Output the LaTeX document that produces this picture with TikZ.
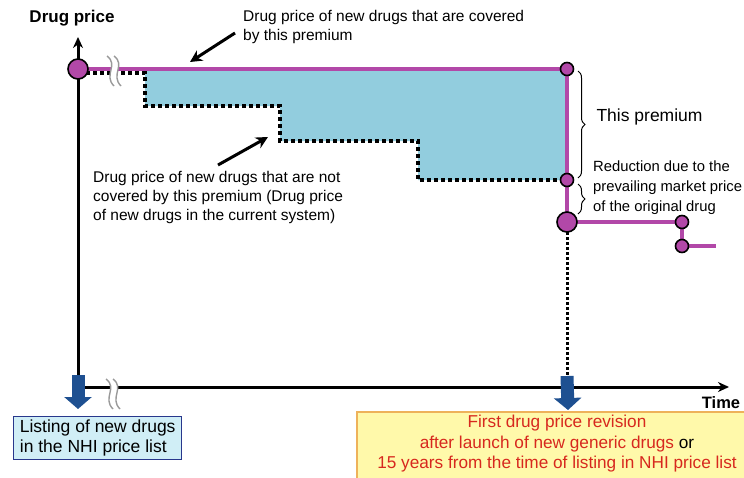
\documentclass[tikz,border=0pt]{standalone}
\usepackage{fontspec}
\setmainfont{Liberation Sans}
\usetikzlibrary{arrows.meta, decorations.pathreplacing, calc}
\definecolor{pricemag}{RGB}{178,72,168}
\definecolor{premblue}{RGB}{146,205,222}
\definecolor{arrblue}{RGB}{30,80,145}
\definecolor{boxblue}{RGB}{208,238,246}
\definecolor{boxnavy}{RGB}{40,55,140}
\definecolor{noteyellow}{RGB}{255,249,170}
\definecolor{noteorange}{RGB}{238,178,90}
\definecolor{notered}{RGB}{215,40,30}

\tikzset{
  dot/.style={circle, draw=black, fill=pricemag, line width=1.6pt, inner sep=0pt, minimum size=13pt},
  bigdot/.style={dot, minimum size=20pt},
  priceline/.style={pricemag, line width=4pt},
  oldprice/.style={black, line width=4pt, dash pattern=on 4pt off 3pt},
  axisline/.style={black, line width=3pt, -{Stealth[length=11pt, width=10pt]}},
  notearrow/.style={black, line width=3pt, -{Stealth[length=12pt, width=12pt]}},
  downarrow/.style={arrblue, line width=13pt, -{Triangle[length=12pt, width=27pt]}},
  premiumbrace/.style={decorate, decoration={brace, amplitude=7pt}, line width=1pt},
  axisbreak/.pic={
    \fill[white] (-6,-15) .. controls (6,-6) and (-10,4) .. (1,15) -- (8,15) .. controls (-3,4) and (13,-6) .. (1,-15) -- cycle;
    \draw[gray!80, line width=1.4pt] (-6,-15) .. controls (6,-6) and (-10,4) .. (1,15);
    \draw[gray!80, line width=1.4pt] (1,-15) .. controls (13,-6) and (-3,4) .. (8,15);
  }
}

\begin{document}
\begin{tikzpicture}[x=1pt, y=-1pt, font=\fontsize{15.5}{19}\selectfont]
  \useasboundingbox (0,0) rectangle (744,477);
  % axes
  \coordinate (orig) at (78,387);
  \coordinate (ytop) at (78,37);
  \coordinate (xend) at (729,387);
  \draw[axisline] (orig) -- (ytop);
  \draw[axisline] (orig) -- (xend);
  \node[font=\fontsize{17}{19}\selectfont\bfseries] (ylab) at (72,18) {Drug price};
  \node[font=\fontsize{16.5}{19}\selectfont\bfseries] (xlab) at (721,403) {Time};
  % price points
  \coordinate (p0) at (78,69);
  \coordinate (p1) at (567,69);
  \coordinate (p2) at (567,180);
  \coordinate (p3) at (567,222);
  \coordinate (p4) at (682,222);
  \coordinate (p5) at (682,246);
  \coordinate (p6) at (716,246);
  % premium area
  \fill[premblue] (145,71) -- (p1) -- (p2) -- (418,180) -- (418,141) -- (280,141) -- (280,106) -- (145,106) -- cycle;
  \draw[oldprice] (86,73) -- (145,73) -- (145,106) -- (280,106) -- (280,141) -- (418,141) -- (418,180) -- (p2);
  % drug price with premium
  \draw[priceline] (p0) -- (p1) -- (p3) -- (p4) -- (p5) -- (p6);
  \coordinate (rev) at (567,376);
  \draw[black, line width=3pt, dash pattern=on 2.5pt off 2.5pt] (p3) -- (rev);
  \node[bigdot] (n0) at (p0) {};
  \node[dot] (n1) at (p1) {};
  \node[dot] (n2) at (p2) {};
  \node[bigdot] (n3) at (p3) {};
  \node[dot] (n4) at (p4) {};
  \node[dot] (n5) at (p5) {};
  % breaks
  \pic at (113,71) {axisbreak};
  \pic at (112,394) {axisbreak};
  % braces
  \draw[premiumbrace] (578,71) -- (578,178);
  \draw[premiumbrace] (578,184) -- (578,214);
  \node[anchor=west, font=\fontsize{17.5}{19}\selectfont] (premium) at (593,117) {This premium};
  \node[anchor=west, align=left, inner sep=0pt, font=\fontsize{14.8}{20}\selectfont] (reduct) at (593,188)
    {Reduction due to the\\prevailing market price\\of the original drug};
  % notes
  \node[anchor=west, align=left, inner sep=0pt] (covered) at (243,27)
    {Drug price of new drugs that are covered\\by this premium};
  \coordinate (covtail) at (235,33);
  \coordinate (covtip) at (190,62);
  \draw[notearrow] (covtail) -- (covtip);
  \node[anchor=west, align=left, inner sep=0pt] (notcov) at (93,197)
    {Drug price of new drugs that are not\\covered by this premium (Drug price\\of new drugs in the current system)};
  \coordinate (ncovtail) at (218,165);
  \coordinate (ncovtip) at (268,137);
  \draw[notearrow] (ncovtail) -- (ncovtip);
  % time points
  \coordinate (lst) at (78,375);
  \coordinate (lsttip) at (78,409);
  \coordinate (revtip) at (568,410);
  \draw[downarrow] (lst) -- (lsttip);
  \draw[downarrow] (rev) -- (revtip);
  \node[anchor=north west, draw=boxnavy, fill=boxblue, line width=1.4pt, align=left, inner xsep=2pt, inner ysep=1pt,
    minimum width=168pt, minimum height=43pt, font=\fontsize{17.5}{20}\selectfont] (listing) at (13,416)
    {Listing of new drugs\\in the NHI price list};
  \draw[draw=noteorange, fill=noteyellow, line width=1.4pt] (357,412) rectangle (752,485);
  \node[align=center, text=notered, font=\fontsize{17.2}{20.5}\selectfont] (revision) at (557,444)
    {First drug price revision\\after launch of new generic drugs \textcolor{black}{or}\\15 years from the time of listing in NHI price list};
\end{tikzpicture}
\end{document}
